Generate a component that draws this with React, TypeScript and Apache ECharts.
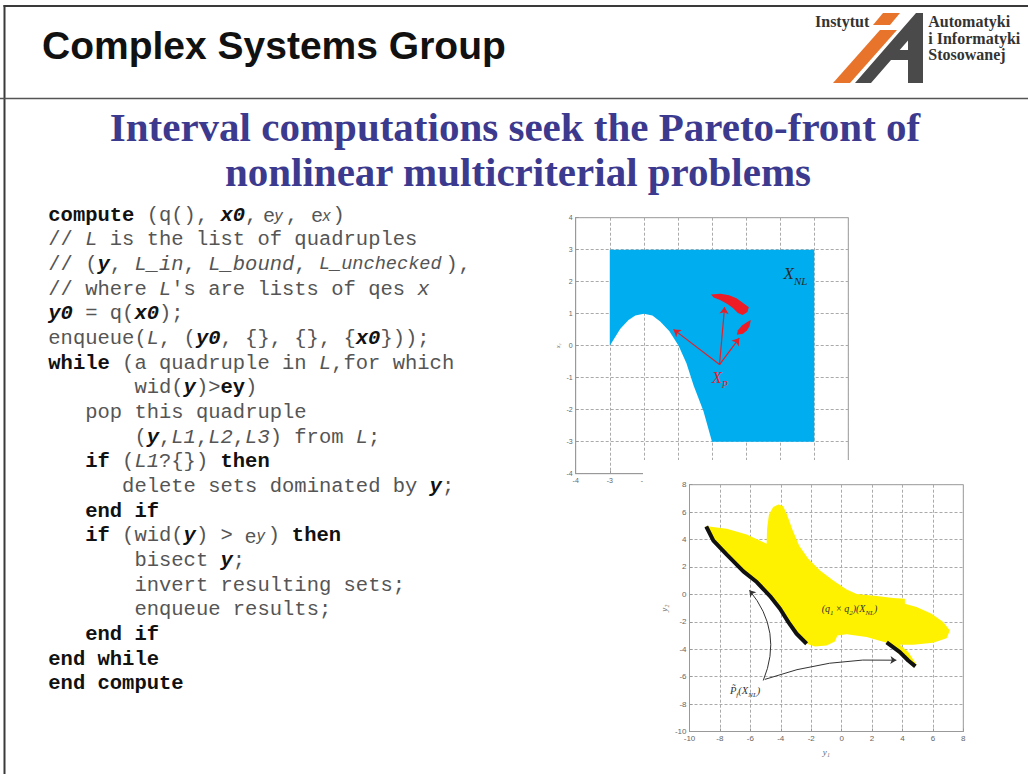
import React, { useEffect, useRef } from 'react';
import * as echarts from 'echarts';

// ---------- top plot (decision space) ----------
const topTicks = [-4, -3, -2, -1, 0, 1, 2, 3, 4];
const feasibleBox: [number, number][] = [[-3, 3], [3, 3], [3, -3]];
const feasibleCurve: [number, number][] = [
  [0, -3], [-0.25, -2.05], [-0.54, -1.24], [-0.75, -0.55], [-0.98, 0.0], [-1.25, 0.45],
  [-1.52, 0.76], [-1.75, 0.94], [-2.0, 1.0], [-2.25, 0.94], [-2.45, 0.8], [-2.69, 0.53], [-3, 0],
];
const paretoBlobA: [number, number][] = [
  [-0.03, 1.6], [0.25, 1.62], [0.5, 1.58], [0.72, 1.48], [0.92, 1.33], [1.08, 1.2], [1.04, 1.05],
  [0.9, 0.96], [0.76, 1.02], [0.62, 1.17], [0.45, 1.3], [0.25, 1.42], [0.05, 1.51],
];
const paretoBlobB: [number, number][] = [
  [0.73, 0.34], [0.76, 0.48], [0.88, 0.63], [1.03, 0.74], [1.14, 0.8], [1.1, 0.61], [1.03, 0.48], [0.91, 0.37],
];
const arrowOrigin: [number, number] = [0.22, -0.59];
const arrowTargets: [number, number][] = [[-1.13, 0.51], [0.37, 1.21], [0.8, 0.24]];

// ---------- bottom plot (criteria space) ----------
const bottomTicks = [-10, -8, -6, -4, -2, 0, 2, 4, 6, 8];
const imageOutline: [number, number][] = [
  [-8.98, 4.99], [-7.55, 4.79], [-6.24, 4.36], [-4.93, 3.7], [-4.9, 4.79], [-4.78, 5.8], [-4.5, 6.38],
  [-4.16, 6.55], [-3.85, 6.45], [-3.6, 5.85], [-3.22, 4.67], [-2.78, 3.53], [-2.19, 2.6], [-1.42, 1.75],
  [-0.55, 1.02], [0.33, 0.36], [0.99, 0.02], [2.3, -0.12], [3.39, -0.27], [4.16, -0.32], [4.16, -0.68],
  [4.93, -0.92], [5.91, -1.41], [6.68, -2.02], [7.12, -2.63], [6.9, -3.19], [6.02, -3.53], [4.71, -3.67],
  [3.83, -3.67], [4.38, -4.21], [4.93, -5.13], [4.71, -5.3], [2.96, -3.53], [1.64, -3.11], [0.33, -2.9],
  [-0.28, -2.99], [-0.44, -3.43], [-0.99, -3.72], [-1.75, -3.8], [-2.3, -3.6], [-2.96, -2.87], [-3.5, -2.02],
  [-4.05, -1.05], [-4.71, -0.12], [-5.58, 0.9], [-6.46, 1.68], [-7.55, 2.9], [-8.43, 3.92], [-8.91, 4.79],
];
const frontLeft: [number, number][] = [
  [-8.9, 4.95], [-8.43, 3.92], [-7.55, 2.9], [-6.46, 1.68], [-5.58, 0.9], [-4.71, -0.12],
  [-4.05, -1.05], [-3.5, -2.02], [-2.96, -2.87], [-2.3, -3.6],
];
const frontRight: [number, number][] = [[2.96, -3.5], [3.83, -4.21], [4.38, -4.82], [4.85, -5.25]];
const noteArrowFrom: [number, number][] = [[-5.15, -6.28], [-5.05, -6.2]];
const noteArrowTo: [number, number][] = [[-6.06, 0.3], [3.6, -4.8]];
const noteArrowCurve = [-0.3, 0.1];

// ---------- annotations ----------
const topLabels = [
  { pos: [2.1, 2.25], text: '{m|X}{s|NL}', color: '#2a2a2a', size: 17 },
  { pos: [0.0, -0.98], text: '{m|X}{s|P}', color: '#e3202a', size: 16 },
];
const bottomLabels = [
  { pos: [-1.31, -1.04], text: '{m|(q}{s|1}{r| × }{m|q}{s|2}{m|)(X}{s|NL}{m|)}', color: '#333', size: 10 },
  { pos: [-7.34, -7.0], text: '{m|P\u0303}{s|f}{m|(X}{s|NL}{m|)}', color: '#333', size: 10.5 },
];

// ---------- code listing ----------
type Seg = [string, string, number];
const CODE_LINES: Seg[][] = [
  [['b', 'compute', 0], ['n', '(q(),', 8], ['bi', 'x0', 14], ['n', ',', 16], ['e', 'e', 17.5], ['es', 'y', 18.4], ['n', ',', 19.3], ['e', 'e', 21.4], ['es', 'x', 22.3], ['n', ')', 23.1]],
  [['n', '//', 0], ['i', 'L', 3], ['n', 'is the list of quadruples', 5]],
  [['n', '//', 0], ['n', '(', 3], ['bi', 'y', 4], ['n', ',', 5], ['i', 'L_in', 7], ['n', ',', 11], ['i', 'L_bound', 13], ['n', ',', 20], ['in', 'L_unchecked', 22], ['n', ')', 32.3], ['n', ',', 33.35]],
  [['n', '// where', 0], ['i', 'L', 9], ['n', "'s are lists of qes", 10], ['i', 'x', 30]],
  [['bi', 'y0', 0], ['n', '= q(', 3], ['bi', 'x0', 7], ['n', ');', 9]],
  [['n', 'enqueue(', 0], ['i', 'L', 8], ['n', ',', 9], ['n', '(', 11], ['bi', 'y0', 12], ['n', ', {}, {}, {', 14], ['bi', 'x0', 25], ['n', '}));', 27]],
  [['b', 'while', 0], ['n', '(a quadruple in', 6], ['i', 'L', 22], ['n', ',for which', 23]],
  [['n', 'wid(', 7], ['bi', 'y', 11], ['n', ')>', 12], ['b', 'ey', 14], ['n', ')', 16]],
  [['n', 'pop this quadruple', 3]],
  [['n', '(', 7], ['bi', 'y', 8], ['n', ',', 9], ['i', 'L1', 10], ['n', ',', 12], ['i', 'L2', 13], ['n', ',', 15], ['i', 'L3', 16], ['n', ')', 18], ['n', 'from', 20], ['i', 'L', 25], ['n', ';', 26]],
  [['b', 'if', 3], ['n', '(', 6], ['i', 'L1', 7], ['n', '?{})', 9], ['b', 'then', 14]],
  [['n', 'delete sets dominated by', 6], ['bi', 'y', 31], ['n', ';', 32]],
  [['b', 'end if', 3]],
  [['b', 'if', 3], ['n', '(wid(', 6], ['bi', 'y', 11], ['n', ')', 12], ['n', '>', 14], ['e', 'e', 16], ['es', 'y', 16.95], ['n', ')', 17.85], ['b', 'then', 19.8]],
  [['n', 'bisect', 7], ['bi', 'y', 14], ['n', ';', 15]],
  [['n', 'invert resulting sets;', 7]],
  [['n', 'enqueue results;', 7]],
  [['b', 'end if', 3]],
  [['b', 'end while', 0]],
  [['b', 'end compute', 0]],
];

const MONO = '"Liberation Mono", "Courier New", monospace';
const CODE_STYLES: Record<string, { font: string; fill: string }> = {
  n: { font: `20.5px ${MONO}`, fill: '#555' },
  b: { font: `bold 20.5px ${MONO}`, fill: '#111' },
  i: { font: `italic 20.5px ${MONO}`, fill: '#555' },
  in: { font: `italic 18.6px ${MONO}`, fill: '#555' },
  bi: { font: `italic bold 20.5px ${MONO}`, fill: '#111' },
  e: { font: '20px "Liberation Sans"', fill: '#555' },
  es: { font: 'italic 16px "Liberation Sans"', fill: '#555' },
};

function txt(x: number, y: number, text: string, font: string, fill: string, align = 'left', z = 20) {
  return {
    type: 'text', x, y, z, silent: true,
    style: { text, font, fill, align, textAlign: align, verticalAlign: 'middle', textVerticalAlign: 'middle' },
  };
}

function polyShape(points: number[][], fill: string, z = 20) {
  return { type: 'polygon', z, silent: true, shape: { points }, style: { fill } };
}

function polySeries(pts: [number, number][], fill: string, axis: number, z: number) {
  return {
    type: 'custom', coordinateSystem: 'cartesian2d', xAxisIndex: axis, yAxisIndex: axis, z, silent: true,
    clip: false, data: pts, encode: { x: 0, y: 1 },
    renderItem: (params: any, api: any) => {
      if (params.dataIndex !== 0) return { type: 'group', children: [] };
      return { type: 'polygon', shape: { points: pts.map((p) => api.coord(p)) }, style: { fill } };
    },
  };
}

function labelSeries(labels: any[], axis: number, z: number) {
  return {
    type: 'custom', coordinateSystem: 'cartesian2d', xAxisIndex: axis, yAxisIndex: axis, z, silent: true,
    clip: false, data: labels.map((l) => l.pos), encode: { x: 0, y: 1 },
    renderItem: (params: any, api: any) => {
      const l = labels[params.dataIndex];
      const p = api.coord(l.pos);
      const fam = '"Liberation Serif", "Times New Roman", serif';
      return {
        type: 'text', x: p[0], y: p[1],
        style: {
          text: l.text, align: 'left', textAlign: 'left', verticalAlign: 'middle', textVerticalAlign: 'middle',
          rich: {
            m: { font: `italic ${l.size}px ${fam}`, fill: l.color, lineHeight: l.size * 1.5 },
            r: { font: `${l.size}px ${fam}`, fill: l.color, lineHeight: l.size * 1.5 },
            s: { font: `italic ${Math.round(l.size * 0.65)}px ${fam}`, fill: l.color, verticalAlign: 'bottom' },
          },
        },
      };
    },
  };
}

function axisCommon(min: number, max: number, interval: number, grid: number, z: number, fs: number) {
  return {
    gridIndex: grid, type: 'value', min, max, interval, z,
    axisLine: { show: true, onZero: false, lineStyle: { color: '#999', width: 1 } },
    axisTick: { show: true, inside: true, length: 3, lineStyle: { color: '#999' } },
    axisLabel: { fontSize: fs, color: '#666', fontFamily: '"Liberation Sans", Arial, sans-serif', margin: 3 },
    splitLine: { show: true, lineStyle: { color: '#aaa', width: 1, type: [3, 2] } },
  };
}

export default function App() {
  const ref = useRef<HTMLDivElement>(null);
  useEffect(() => {
    if (!ref.current) return;
    const chart = echarts.init(ref.current, undefined, { renderer: 'svg' });

    const codeEls: any[] = [];
    CODE_LINES.forEach((line, i) => {
      const y = 215 + i * 24.68;
      line.forEach(([st, text, col]) => {
        const s = CODE_STYLES[st];
        codeEls.push(txt(48.3 + col * 12.3, y, text, s.font, s.fill));
      });
    });

    const serifB = '"Liberation Serif", "Times New Roman", serif';
    const graphics: any[] = [
      // slide frame
      { type: 'line', z: 20, silent: true, shape: { x1: 3.5, y1: 6, x2: 1028, y2: 6 }, style: { stroke: '#3a3a3a', lineWidth: 2 } },
      { type: 'line', z: 20, silent: true, shape: { x1: 4.5, y1: 5, x2: 4.5, y2: 774 }, style: { stroke: '#3a3a3a', lineWidth: 2 } },
      { type: 'line', z: 20, silent: true, shape: { x1: 0, y1: 98.5, x2: 1028, y2: 98.5 }, style: { stroke: '#555', lineWidth: 1.5 } },
      // header
      txt(42, 45, 'Complex Systems Group', 'bold 39px "Liberation Sans", Arial, sans-serif', '#111'),
      txt(815, 21.5, 'Instytut', `bold 16px ${serifB}`, '#333'),
      txt(928.3, 21.5, 'Automatyki', `bold 16px ${serifB}`, '#333'),
      txt(928.3, 38.2, 'i Informatyki', `bold 16px ${serifB}`, '#333'),
      txt(928.3, 54.8, 'Stosowanej', `bold 16px ${serifB}`, '#333'),
      polyShape([[873, 25], [890, 25], [900, 13], [883, 13]], '#e8732b'),
      polyShape([[833, 83], [850, 83], [897, 30], [880, 30]], '#e8732b'),
      polyShape([[855, 83], [916, 13], [923, 13], [923, 83], [908, 83], [908, 60], [891, 60], [871, 83]], '#4a4a4a'),
      polyShape([[899.7, 50], [908, 40.5], [908, 50]], '#ffffff'),
      // title
      txt(515, 127, 'Interval computations seek the Pareto-front of', `bold 41px ${serifB}`, '#3c3a8e', 'center'),
      txt(518, 172, 'nonlinear multicriterial problems', `bold 41px ${serifB}`, '#3c3a8e', 'center'),
      // white panel of the second figure
      { type: 'rect', z: 4, silent: true, shape: { x: 643, y: 460, width: 385, height: 314 }, style: { fill: '#ffffff' } },
      ...codeEls,
    ];

    const option: any = {
      animation: false,
      backgroundColor: '#ffffff',
      grid: [
        { left: 575.7, top: 217.7, width: 272.6, height: 256, show: true, borderColor: '#999', borderWidth: 1, z: 1 },
        { left: 689.5, top: 484.7, width: 273.8, height: 246.8, show: true, borderColor: '#999', borderWidth: 1, z: 5 },
      ],
      xAxis: [
        { ...axisCommon(topTicks[0], topTicks[topTicks.length - 1], 1, 0, 1, 7) },
        {
          ...axisCommon(bottomTicks[0], bottomTicks[bottomTicks.length - 1], 2, 1, 5, 8),
          name: 'y\u2081', nameLocation: 'middle', nameGap: 16,
          nameTextStyle: { fontFamily: serifB, fontStyle: 'italic', fontSize: 9, color: '#666' },
        },
      ],
      yAxis: [
        {
          ...axisCommon(topTicks[0], topTicks[topTicks.length - 1], 1, 0, 1, 7),
          name: 'x\u2082', nameLocation: 'middle', nameGap: 15, nameRotate: 90,
          nameTextStyle: { fontFamily: serifB, fontStyle: 'italic', fontSize: 6, color: '#666' },
        },
        {
          ...axisCommon(bottomTicks[0], bottomTicks[bottomTicks.length - 1], 2, 1, 5, 8),
          name: 'y\u2082', nameLocation: 'middle', nameGap: 21, nameRotate: 90,
          nameTextStyle: { fontFamily: serifB, fontStyle: 'italic', fontSize: 9, color: '#666' },
        },
      ],
      graphic: { elements: graphics },
      series: [
        polySeries([...feasibleBox, ...feasibleCurve], '#00aeef', 0, 2),
        polySeries(paretoBlobA, '#ee1c25', 0, 3),
        polySeries(paretoBlobB, '#ee1c25', 0, 3),
        {
          type: 'lines', coordinateSystem: 'cartesian2d', xAxisIndex: 0, yAxisIndex: 0, z: 3, silent: true,
          symbol: ['none', 'arrow'], symbolSize: 7,
          lineStyle: { color: '#e3202a', width: 1.2, opacity: 1, curveness: 0 },
          data: arrowTargets.map((t) => ({ coords: [arrowOrigin, t] })),
        },
        labelSeries(topLabels, 0, 3),
        polySeries(imageOutline, '#fff200', 1, 6),
        {
          type: 'line', xAxisIndex: 1, yAxisIndex: 1, z: 7, silent: true, data: frontLeft,
          symbol: 'none', showSymbol: false, lineStyle: { color: '#111', width: 4 },
        },
        {
          type: 'line', xAxisIndex: 1, yAxisIndex: 1, z: 7, silent: true, data: frontRight,
          symbol: 'none', showSymbol: false, lineStyle: { color: '#111', width: 4 },
        },
        {
          type: 'lines', coordinateSystem: 'cartesian2d', xAxisIndex: 1, yAxisIndex: 1, z: 8, silent: true,
          symbol: ['none', 'arrow'], symbolSize: 6,
          lineStyle: { color: '#333', width: 1, opacity: 1 },
          data: noteArrowFrom.map((f, i) => ({ coords: [f, noteArrowTo[i]], lineStyle: { curveness: noteArrowCurve[i] } })),
        },
        labelSeries(bottomLabels, 1, 8),
      ],
    };
    chart.setOption(option);
    return () => chart.dispose();
  }, []);
  return <div ref={ref} style={{ position: 'absolute', left: 0, top: 0, width: 1028, height: 774, background: '#fff' }} />;
}
